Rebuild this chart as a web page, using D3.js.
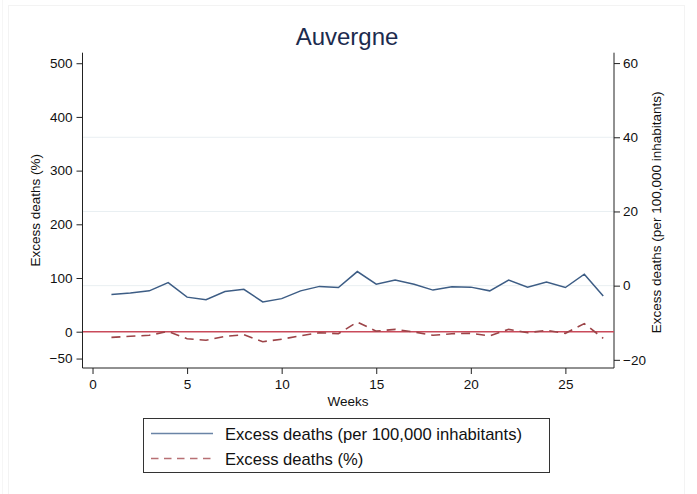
<!DOCTYPE html>
<html>
<head>
<meta charset="utf-8">
<script src="https://cdn.jsdelivr.net/npm/d3@7"></script>
<style>
  body { margin: 0; background: #fff; }
  text { font-family: "Liberation Sans", Arial, sans-serif; }
</style>
</head>
<body>
<div class="chart-container"></div>
<script>
// Data
const weeks = d3.range(1, 28);
const perInhabitants = [-2.4, -2.0, -1.4, 0.8, -3.1, -3.8, -1.6, -1.0, -4.4, -3.5,
    -1.4, -0.2, -0.5, 3.8, 0.4, 1.5, 0.4, -1.2, -0.3, -0.4,
    -1.4, 1.5, -0.4, 1.0, -0.5, 3.1, -2.8];
const percent = [-10.5, -8.6, -6.7, 0.5, -13, -16, -8.6, -5.6, -18.6, -14,
    -7.5, -1.9, -3.7, 18, 1, 4.4, -0.5, -6.7, -3.7, -3,
    -8, 4.4, -1.9, 2.5, -3, 15, -12.4];
const xTicks = [0, 5, 10, 15, 20, 25];
const leftTicks = [-50, 0, 100, 200, 300, 400, 500];
const rightTicks = [-20, 0, 20, 40, 60];
const gridTicks = [0, 20, 40];

function draw() {
    const width = 697;
    const height = 494;
    const plotLeft = 82.5;
    const plotRight = 614;
    const plotTop = 52.7;
    const plotBottom = 368;

    const x = d3.scaleLinear()
        .domain([-0.53, 27.57])
        .range([plotLeft, plotRight]);

    const yLeft = d3.scaleLinear()
        .domain([-67.6, 519.6])
        .range([plotBottom, plotTop]);

    const yRight = d3.scaleLinear()
        .domain([-22.2, 62.8])
        .range([plotBottom, plotTop]);

    const svg = d3.select('.chart-container').append("svg")
        .attr("width", width)
        .attr("height", height);

    // faint outer frames
    svg.append('rect')
        .attr('x', 8.5).attr('y', 5.5)
        .attr('width', 676).attr('height', 500)
        .attr('fill', 'none')
        .attr('stroke', '#f3f3f3');
    svg.append('line')
        .attr('x1', 2.5).attr('x2', 2.5).attr('y1', 0).attr('y2', height)
        .attr('stroke', '#f6f6f6');

    // Title
    svg.append('text')
        .attr('x', 347)
        .attr('y', 44.5)
        .attr('text-anchor', 'middle')
        .style('font-size', '24px')
        .attr('fill', '#1c2b4e')
        .text('Auvergne');

    // Gridlines (right axis)
    svg.append('g')
        .selectAll('line')
        .data(gridTicks)
        .join('line')
        .attr('x1', plotLeft)
        .attr('x2', plotRight)
        .attr('y1', d => yRight(d))
        .attr('y2', d => yRight(d))
        .attr('stroke', '#e9eff2')
        .attr('stroke-width', 1);

    // Axes
    const xAxis = svg.append("g")
        .attr("transform", `translate(0,${plotBottom})`)
        .call(d3.axisBottom(x).tickValues(xTicks).tickSize(6).tickPadding(5).tickSizeOuter(0));

    const leftAxis = svg.append("g")
        .attr("transform", `translate(${plotLeft},0)`)
        .call(d3.axisLeft(yLeft).tickValues(leftTicks).tickSize(6).tickPadding(4).tickSizeOuter(0));

    const rightAxis = svg.append("g")
        .attr("transform", `translate(${plotRight},0)`)
        .call(d3.axisRight(yRight).tickValues(rightTicks).tickSize(6).tickPadding(3).tickSizeOuter(0));

    [xAxis, leftAxis, rightAxis].forEach(a => {
        a.selectAll('text')
            .style('font-size', '13.5px')
            .style('font-family', '"Liberation Sans", Arial, sans-serif')
            .attr('fill', '#111');
        a.selectAll('line').attr('stroke', '#222');
        a.select('.domain').attr('stroke', '#222');
    });

    // x axis domain should extend across plot
    xAxis.select('.domain').attr('d', `M${plotLeft},0H${plotRight}`);
    leftAxis.select('.domain').attr('d', `M0,${plotTop}V${plotBottom}`);
    rightAxis.select('.domain').attr('d', `M0,${plotTop}V${plotBottom}`);

    // Axis titles
    svg.append('text')
        .attr('transform', `translate(40,${(plotTop + plotBottom) / 2 - 0}) rotate(-90)`)
        .attr('text-anchor', 'middle')
        .style('font-size', '13.5px')
        .attr('fill', '#111')
        .text('Excess deaths (%)');

    svg.append('text')
        .attr('transform', `translate(661,${(plotTop + plotBottom) / 2 + 2}) rotate(-90)`)
        .attr('text-anchor', 'middle')
        .style('font-size', '13.5px')
        .attr('fill', '#111')
        .text('Excess deaths (per 100,000 inhabitants)');

    svg.append('text')
        .attr('x', 348)
        .attr('y', 406)
        .attr('text-anchor', 'middle')
        .style('font-size', '13.5px')
        .attr('fill', '#111')
        .text('Weeks');

    // Zero reference line
    svg.append('line')
        .attr('x1', plotLeft + 0.5)
        .attr('x2', plotRight)
        .attr('y1', yLeft(0))
        .attr('y2', yLeft(0))
        .attr('stroke', '#c94a5a')
        .attr('stroke-width', 1.6);

    const rows = weeks.map((w, i) => ({ w, a: perInhabitants[i], p: percent[i] }));

    // Excess deaths (%) dashed
    svg.append('path')
        .datum(rows)
        .attr('fill', 'none')
        .attr('stroke', '#9c4448')
        .attr('stroke-width', 1.6)
        .attr('stroke-dasharray', '9,6')
        .attr('d', d3.line().x(d => x(d.w)).y(d => yLeft(d.p)));

    // Excess deaths per 100,000
    svg.append('path')
        .datum(rows)
        .attr('fill', 'none')
        .attr('stroke', '#3d5d85')
        .attr('stroke-width', 1.5)
        .attr('d', d3.line().x(d => x(d.w)).y(d => yRight(d.a)));

    // Legend
    const legend = svg.append('g');
    legend.append('rect')
        .attr('x', 143.5).attr('y', 418.5)
        .attr('width', 406).attr('height', 54)
        .attr('fill', '#fff')
        .attr('stroke', '#333');

    legend.append('line')
        .attr('x1', 151).attr('x2', 213).attr('y1', 433.5).attr('y2', 433.5)
        .attr('stroke', '#6a84a6').attr('stroke-width', 1.4);
    legend.append('text')
        .attr('x', 225).attr('y', 439.5)
        .style('font-size', '16.6px')
        .attr('fill', '#111')
        .text('Excess deaths (per 100,000 inhabitants)');

    legend.append('line')
        .attr('x1', 151).attr('x2', 213).attr('y1', 458.5).attr('y2', 458.5)
        .attr('stroke', '#b87074').attr('stroke-width', 1.4)
        .attr('stroke-dasharray', '7.5,5.5');
    legend.append('text')
        .attr('x', 225).attr('y', 464.5)
        .style('font-size', '16.6px')
        .attr('fill', '#111')
        .text('Excess deaths (%)');
}

draw();
</script>
</body>
</html>
